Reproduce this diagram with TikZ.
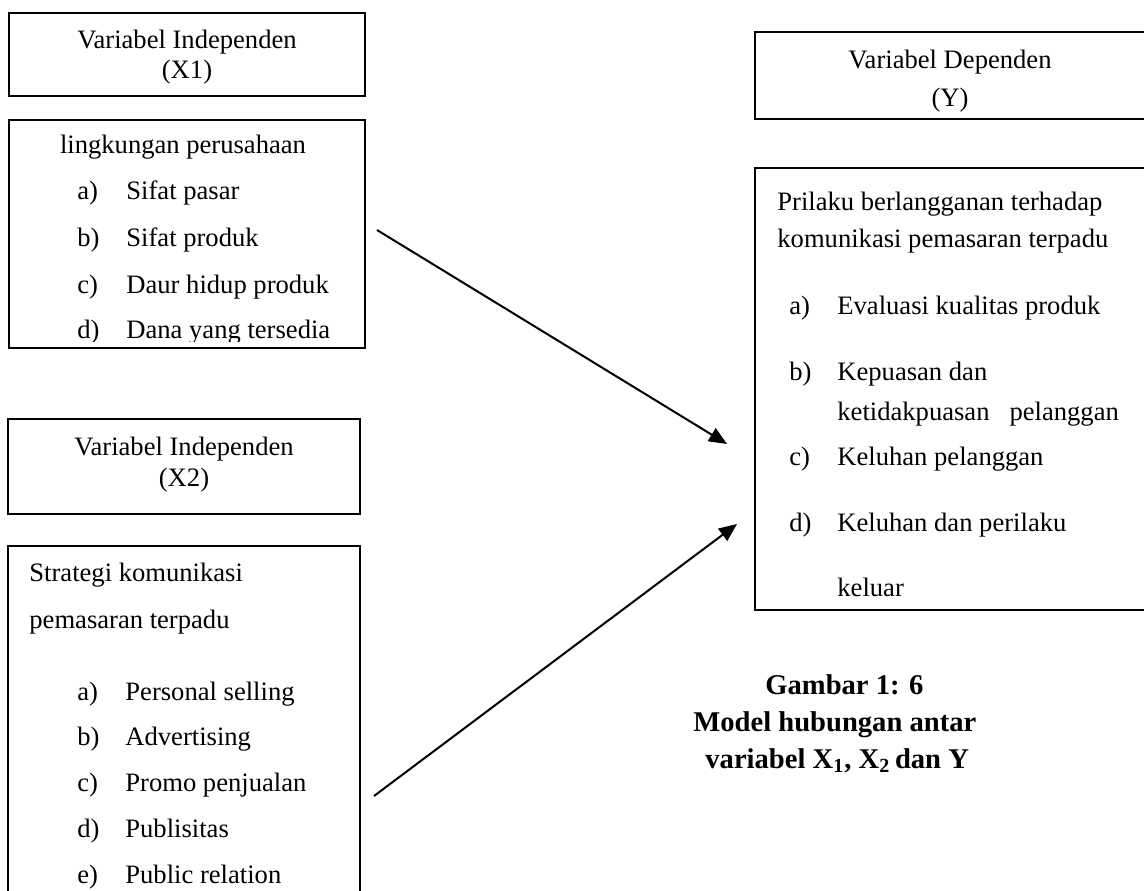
\documentclass[tikz,border=0pt]{standalone}
\usepackage{fontspec}
\setmainfont{Liberation Serif}
\usetikzlibrary{arrows.meta,fit}
\begin{document}
\begin{tikzpicture}[x=0.5pt,y=-0.5pt,
  frame/.style={draw, line width=1pt, inner sep=0pt},
  txt/.style={inner sep=0pt, font=\fontsize{13.3}{16}\selectfont},
  captxt/.style={inner sep=0pt, anchor=base west, font=\fontsize{14.3}{17}\selectfont\bfseries},
  link/.style={line width=1pt, -{Triangle[length=9pt,width=7.5pt]}}
]
\clip (0,0) rectangle (1144,890);

% ---------- X1 ----------
\coordinate (x1ha) at (9,13);   \coordinate (x1hb) at (365,96);
\node[frame, fit=(x1ha)(x1hb)] (x1h) {};
\node[txt, anchor=base] (x1t1) at (187,48) {Variabel Independen};
\node[txt, anchor=base] (x1t2) at (187,78) {(X1)};

\coordinate (x1la) at (9,120);  \coordinate (x1lb) at (365,348);
\node[frame, fit=(x1la)(x1lb)] (x1l) {};
\begin{scope}
  \clip (10,121) rectangle (364,341);
  \node[txt, anchor=base] (x1title) at (183,153) {lingkungan perusahaan};
  \foreach \k/\lab/\item/\y in {a/a)/Sifat pasar/199, b/b)/Sifat produk/246,
      c/c)/Daur hidup produk/293, d/d)/Dana yang tersedia/338}{
    \node[txt, anchor=base west] (x1\k) at (77,\y) {\lab};
    \node[txt, anchor=base west] (x1\k i) at (126,\y) {\item};
  }
\end{scope}

% ---------- X2 ----------
\coordinate (x2ha) at (8,419);  \coordinate (x2hb) at (360,514);
\node[frame, fit=(x2ha)(x2hb)] (x2h) {};
\node[txt, anchor=base] (x2t1) at (184,455) {Variabel Independen};
\node[txt, anchor=base] (x2t2) at (184,486) {(X2)};

\coordinate (x2la) at (8,546);  \coordinate (x2lb) at (360,905);
\node[frame, fit=(x2la)(x2lb)] (x2l) {};
\node[txt, anchor=base west] (x2title1) at (29,581) {Strategi komunikasi};
\node[txt, anchor=base west] (x2title2) at (29,628) {pemasaran terpadu};
\foreach \k/\lab/\item/\y in {a/a)/Personal selling/700, b/b)/Advertising/745,
    c/c)/Promo penjualan/791, d/d)/Publisitas/837, e/e)/Public relation/883}{
  \node[txt, anchor=base west] (x2\k) at (77,\y) {\lab};
  \node[txt, anchor=base west] (x2\k i) at (125,\y) {\item};
}

% ---------- Y ----------
\coordinate (yha) at (755,32);  \coordinate (yhb) at (1150,119);
\node[frame, fit=(yha)(yhb)] (yh) {};
\node[txt, anchor=base] (yt1) at (950,68) {Variabel Dependen};
\node[txt, anchor=base] (yt2) at (950,106) {(Y)};

\coordinate (yla) at (755,168); \coordinate (ylb) at (1150,610);
\node[frame, fit=(yla)(ylb)] (yl) {};
\node[txt, anchor=base west] (ytitle1) at (777,210) {Prilaku berlangganan terhadap};
\node[txt, anchor=base west] (ytitle2) at (777,247) {komunikasi pemasaran terpadu};
\node[txt, anchor=base west] (ya)  at (789,314) {a)};
\node[txt, anchor=base west] (yai) at (837,314) {Evaluasi kualitas produk};
\node[txt, anchor=base west] (yb)  at (789,380) {b)};
\node[txt, anchor=base west] (ybi) at (837,380) {Kepuasan dan};
\node[txt, anchor=base west] (ybj) at (837,420) {ketidakpuasan\hspace{10pt}pelanggan};
\node[txt, anchor=base west] (yc)  at (789,465) {c)};
\node[txt, anchor=base west] (yci) at (837,465) {Keluhan pelanggan};
\node[txt, anchor=base west] (yd)  at (789,531) {d)};
\node[txt, anchor=base west] (ydi) at (837,531) {Keluhan dan perilaku};
\node[txt, anchor=base west] (ydj) at (837,596) {keluar};

% ---------- caption ----------
\node[captxt] (c1) at (765,694) {Gambar 1: 6};
\node[captxt] (c2) at (693,731) {Model hubungan antar};
\node[captxt] (c3) at (705,768) {variabel X\textsubscript{1}, X\textsubscript{2}\,dan Y};

% ---------- links ----------
\coordinate (s1) at ([xshift=5.5pt]x1l.east |- 0,230);
\coordinate (e1) at (727,444);
\coordinate (s2) at ([xshift=6.5pt]x2l.east |- 0,796);
\coordinate (e2) at (737,524);
\draw[link] (s1) -- (e1);
\draw[link] (s2) -- (e2);
\end{tikzpicture}
\end{document}
